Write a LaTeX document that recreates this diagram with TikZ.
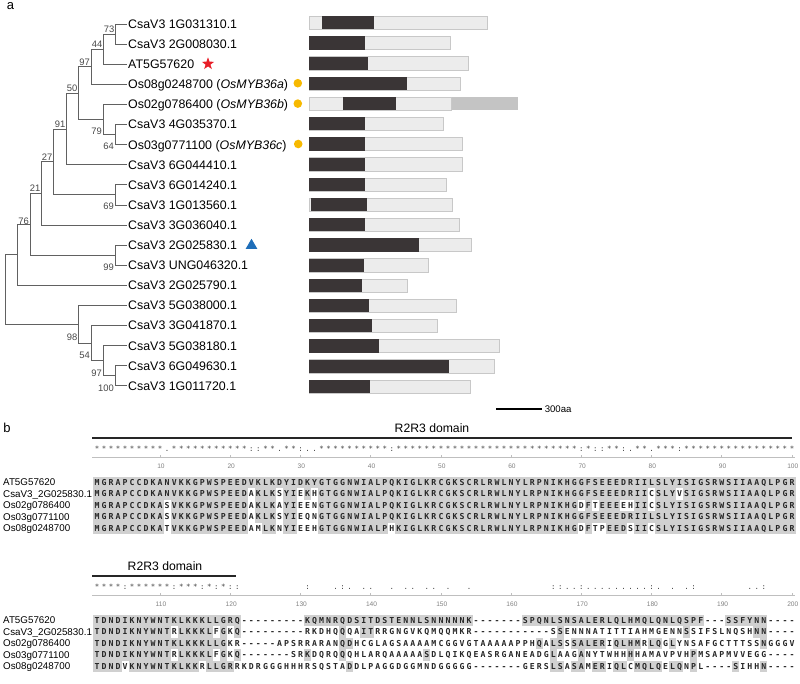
\documentclass[tikz,border=0pt]{standalone}
\usepackage{fontspec}
\setmainfont{Liberation Sans}
\newfontfamily\resfont{DejaVu Sans Mono}
\usetikzlibrary{shapes.geometric}

\definecolor{bardark}{RGB}{58,53,54}
\definecolor{barlight}{RGB}{236,236,236}
\definecolor{barline}{RGB}{200,200,200}
\definecolor{barmid}{RGB}{196,196,196}
\definecolor{alnshade}{RGB}{208,208,208}
\definecolor{starred}{RGB}{232,30,40}
\definecolor{dotyellow}{RGB}{247,185,0}
\definecolor{triblue}{RGB}{30,110,185}

% alignment rows: a residue is shaded when it equals the first row
\newcount\alncol
\def\alnrow#1#2#3#4{\global\alncol=0 \def\alnname{#1}\def\alny{#2}\def\alnidx{#3}\alnscan#4\relax}
\def\alnscan#1{\ifx\relax#1\else\alnres#1\expandafter\alnscan\fi}
\def\alnres#1{%
  \global\advance\alncol by 1
  \pgfmathsetmacro\alnx{97+7.02*(\the\alncol-1)}%
  \ifnum\alnidx=1 \expandafter\xdef\csname alnref\the\alncol\endcsname{#1}\fi
  \edef\alnrefc{\csname alnref\the\alncol\endcsname}%
  \if#1-\else\if#1\alnrefc
    \fill[resshade] (\alnx-3.52,\alny-5.76) rectangle (\alnx+3.52,\alny+5.76);%
  \fi\fi
  \edef\alnnode{\alnname-\the\alncol}%
  \node[res] (\alnnode) at (\alnx,\alny) {#1};}
% conservation rows: o stands for a blank column
\def\conrow#1#2#3{\global\alncol=0 \def\alnname{#1}\def\alny{#2}\conscan#3\relax}
\def\conscan#1{\ifx\relax#1\else\conres#1\expandafter\conscan\fi}
\def\conres#1{%
  \global\advance\alncol by 1
  \if#1o\else
    \pgfmathsetmacro\alnx{97+7.02*(\the\alncol-1)}%
    \edef\alnnode{\alnname-\the\alncol}%
    \node[cons] (\alnnode) at (\alnx,\alny) {#1};%
  \fi}

\begin{document}
\begin{tikzpicture}[x=1pt,y=-1pt,
  branch/.style={draw=black!62,line width=0.75pt},
  leaf/.style={anchor=west,inner sep=1.5pt,text height=8.9pt,text depth=0pt,font=\fontsize{12.4}{14}\selectfont},
  boot/.style={anchor=east,inner sep=0pt,text height=6.8pt,text depth=0pt,font=\fontsize{9.4}{11}\selectfont,text=black!72},
  panel/.style={inner sep=0pt,font=\fontsize{13}{15}\selectfont},
  light/.style={fill=barlight,draw=barline,line width=0.6pt},
  dark/.style={fill=bardark},
  res/.style={inner sep=0pt,text height=6pt,text depth=0pt,font=\resfont\bfseries\fontsize{8.2}{9}\selectfont,text=black!85},
  cons/.style={anchor=base,inner sep=0pt,font=\resfont\fontsize{7.4}{8}\selectfont,text=black!75},
  resshade/.style={fill=alnshade},
  seqname/.style={anchor=west,inner sep=0pt,text height=7.1pt,text depth=0pt,font=\fontsize{9.8}{11}\selectfont},
  domlabel/.style={inner sep=0pt,font=\fontsize{12.2}{14}\selectfont},
  domline/.style={line width=2.4pt,black!85},
  ruler/.style={draw=black!25,line width=0.7pt},
  rulernum/.style={inner sep=0pt,font=\fontsize{6.6}{8}\selectfont,text=black!50}]
\useasboundingbox (0,0) rectangle (800,683);

% panel a: tree
\node[panel] (pa) at (10.5,6.5) {a};
\foreach \i/\txt in {1/CsaV3 1G031310.1, 2/CsaV3 2G008030.1, 3/AT5G57620,
    4/{Os08g0248700 (\textit{OsMYB36a})}, 5/{Os02g0786400 (\textit{OsMYB36b})},
    6/CsaV3 4G035370.1, 7/{Os03g0771100 (\textit{OsMYB36c})}, 8/CsaV3 6G044410.1,
    9/CsaV3 6G014240.1, 10/CsaV3 1G013560.1, 11/CsaV3 3G036040.1, 12/CsaV3 2G025830.1,
    13/CsaV3 UNG046320.1, 14/CsaV3 2G025790.1, 15/CsaV3 5G038000.1, 16/CsaV3 3G041870.1,
    17/CsaV3 5G038180.1, 18/CsaV3 6G049630.1, 19/CsaV3 1G011720.1}
  \node[leaf] (t\i) at (126.5,{24+20.1*(\i-1)}) {\txt};

\coordinate (n73) at (115,34.05);
\coordinate (n44) at (103,49.13);
\coordinate (n97) at (91,66.71);
\coordinate (n64) at (115,134.55);
\coordinate (n79) at (103,119.48);
\coordinate (n50) at (78,93.09);
\coordinate (n91) at (66,128.9);
\coordinate (n69) at (115,194.85);
\coordinate (n27) at (53,161.87);
\coordinate (n21) at (41,193.44);
\coordinate (n99) at (115,255.15);
\coordinate (n76) at (30,224.3);
\coordinate (nA) at (17,254.8);
\coordinate (n100) at (115,375.75);
\coordinate (n97b) at (103,360.68);
\coordinate (n54) at (91,343.09);
\coordinate (n98) at (78,324.25);
\coordinate (root) at (5,289.5);

\draw[branch] (n73) |- (t1.west) (n73) |- (t2.west)
  (n44) |- (n73) (n44) |- (t3.west)
  (n97) |- (n44) (n97) |- (t4.west)
  (n64) |- (t6.west) (n64) |- (t7.west)
  (n79) |- (t5.west) (n79) |- (n64)
  (n50) |- (n97) (n50) |- (n79)
  (n91) |- (n50) (n91) |- (t8.west)
  (n69) |- (t9.west) (n69) |- (t10.west)
  (n27) |- (n91) (n27) |- (n69)
  (n21) |- (n27) (n21) |- (t11.west)
  (n99) |- (t12.west) (n99) |- (t13.west)
  (n76) |- (n21) (n76) |- (n99)
  (nA) |- (n76) (nA) |- (t14.west)
  (n100) |- (t18.west) (n100) |- (t19.west)
  (n97b) |- (t17.west) (n97b) |- (n100)
  (n54) |- (t16.west) (n54) |- (n97b)
  (n98) |- (t15.west) (n98) |- (n54)
  (root) |- (nA) (root) |- (n98);

% bootstrap values
\foreach \v/\bx/\by [count=\c] in {73/114.5/29, 44/102.5/44, 97/90/62, 50/77.5/88,
    91/65.5/124, 27/52.5/157, 21/40.5/188, 76/29/221, 79/102/131, 64/114/146,
    69/114/206, 99/114/267, 98/77.5/337, 54/90/355, 97/102/373, 100/114/388}
  \node[boot] (bs\c) at (\bx,\by) {\v};

% markers
\node[star,star points=5,star point ratio=2.5,fill=starred,inner sep=0pt,minimum size=13pt] (mstar) at (208,63.8) {};
\node[circle,fill=dotyellow,inner sep=0pt,minimum size=8.6pt] (dot4) at (297.8,83.2) {};
\node[circle,fill=dotyellow,inner sep=0pt,minimum size=8.6pt] (dot5) at (297.8,103.6) {};
\node[circle,fill=dotyellow,inner sep=0pt,minimum size=8.6pt] (dot7) at (298.2,144) {};
\node[regular polygon,regular polygon sides=3,fill=triblue,inner sep=0pt,minimum size=13.5pt] (mtri) at (251.5,245.5) {};

% gene structures
\foreach \r/\ds/\de/\le in {1/322/374.3/487.7, 2/309.3/365.3/450.7, 3/309.3/367.7/468.3,
    4/309.3/407.3/460.3, 5/343.3/395.7/451.7, 6/309.3/365.3/443.3, 7/309.3/365.3/462.7,
    8/309.3/365.3/462.7, 9/309.3/365.3/446.7, 10/311.3/367/452.3, 11/309.3/365.3/459,
    12/309.3/419.3/471.7, 13/309.3/364.3/428.3, 14/309.3/362.3/407.3, 15/309.3/369.3/456.7,
    16/309.3/372.3/437.7, 17/309.3/379.3/499.3, 18/309.3/448.7/494.7, 19/309.3/370.3/470.7}
{
  \pgfmathsetmacro\yy{22.8+20.2*(\r-1)}
  \filldraw[light] (309.3,\yy-6.6) rectangle (\le,\yy+6.6);
  \fill[dark] (\ds,\yy-6.6) rectangle (\de,\yy+6.6);
}
\fill[barmid] (451.7,103.4-6.6) rectangle (518,103.4+6.6);
\draw[line width=2.6pt] (496,409) -- (542,409)
  node[right,inner sep=1.5pt,font=\fontsize{9.6}{11}\selectfont] (sbl) {300aa};

% panel b: alignment, block 1
\node[panel] (pb) at (7,428) {b};
\node[domlabel] (dom1) at (432,428) {R2R3 domain};
\draw[domline] (92,437.7) -- (792,437.7);
\conrow{c1}{451.3}{**********.***********::**.**:..**********:**************************:*::**:.**.***:****************}
\draw[ruler] (92,457.8) -- (795,457.8);
\foreach \k in {1,...,10} {
  \pgfmathsetmacro\rx{97+7.02*(10*\k-1)}
  \draw[ruler] (\rx,455.3) -- (\rx,457.8);
  \node[rulernum] (ra\k) at (\rx+0.8,466) {\the\numexpr10*\k\relax};
}
\alnrow{a1}{482.3}{1}{MGRAPCCDKANVKKGPWSPEEDVKLKDYIDKYGTGGNWIALPQKIGLKRCGKSCRLRWLNYLRPNIKHGGFSEEEDRIILSLYISIGSRWSIIAAQLPGR}
\alnrow{a2}{493.8}{2}{MGRAPCCDKANVKKGPWSPEEDAKLKSYIEKHGTGGNWIALPQKIGLKRCGKSCRLRWLNYLRPNIKHGGFSEEEDRIICSLYVSIGSRWSIIAAQLPGR}
\alnrow{a3}{505.3}{3}{MGRAPCCDKASVKKGPWSPEEDAKLKAYIEENGTGGNWIALPQKIGLKRCGKSCRLRWLNYLRPNIKHGDFTEEEEHIICSLYISIGSRWSIIAAQLPGR}
\alnrow{a4}{516.8}{4}{MGRAPCCDKASVKKGPWSPEEDAKLKSYIEQNGTGGNWIALPQKIGLKRCGKSCRLRWLNYLRPNIKHGGFSEEEDRIILSLYISIGSRWSIIAAQLPGR}
\alnrow{a5}{528.3}{5}{MGRAPCCDKATVKKGPWSPEEDAMLKNYIEEHGTGGNWIALPHKIGLKRCGKSCRLRWLNYLRPNIKHGDFTPEEDSIICSLYISIGSRWSIIAAQLPGR}

% panel b: alignment, block 2
\node[domlabel] (dom2) at (165,566) {R2R3 domain};
\draw[domline] (92,575.7) -- (236,575.7);
\conrow{c2}{589.3}{****:******:***:*:*::ooooooooo:ooo.:.o..oo.o..o..o.oo.ooooooooooo::..:.........:.o.o.:ooooooo..:oooo}
\draw[ruler] (92,595.8) -- (795,595.8);
\foreach \k in {1,...,10} {
  \pgfmathsetmacro\rx{97+7.02*(10*\k-1)}
  \draw[ruler] (\rx,593.3) -- (\rx,595.8);
  \node[rulernum] (rb\k) at (\rx+0.8,604) {\the\numexpr100+10*\k\relax};
}
\alnrow{b1}{620.3}{1}{TDNDIKNYWNTKLKKKLLGRQ---------KQMNRQDSITDSTENNLSNNNNNK-------SPQNLSNSALERLQLHMQLQNLQSPF---SSFYNN----}
\alnrow{b2}{631.8}{2}{TDNDIKNYWNTRLKKKLFGKQ---------RKDHQQQAITRRGNGVKQMQQMKR-----------SSENNNATITTIAHMGENNSSIFSLNQSHNN----}
\alnrow{b3}{643.3}{3}{TDNDIKNYWNTKLKKKLLGKR-----APSRRARANQDHCGLAGSAAAAMCGGVGTAAAAAPPHQALSSSALERIQLHMRLQGLYNSAFGCTTTSSNGGGV}
\alnrow{b4}{654.8}{4}{TDNDIKNYWNTRLKKKLFGKQ-------SRKDQRQQQHLARQAAAAASDLQIKQEASRGANEADGLAAGANYTWHHHHAMAVPVHPMSAPMVVEGG----}
\alnrow{b5}{666.3}{5}{TDNDVKNYWNTKLKKRLLGRRKDRGGGHHHRSQSTADDLPAGGDGGMNDGGGGG-------GERSLSASAMERIQLCMQLQELQNPL----SIHHN----}

% sequence names
\foreach \i/\nm/\yy in {1/AT5G57620/482.3, 2/CsaV3\_2G025830.1/493.8, 3/Os02g0786400/505.3,
    4/Os03g0771100/516.8, 5/Os08g0248700/528.3}
{
  \node[seqname] (sa\i) at (3,\yy) {\nm};
  \node[seqname] (sb\i) at (3,\yy+138) {\nm};
}
\end{tikzpicture}
\end{document}
